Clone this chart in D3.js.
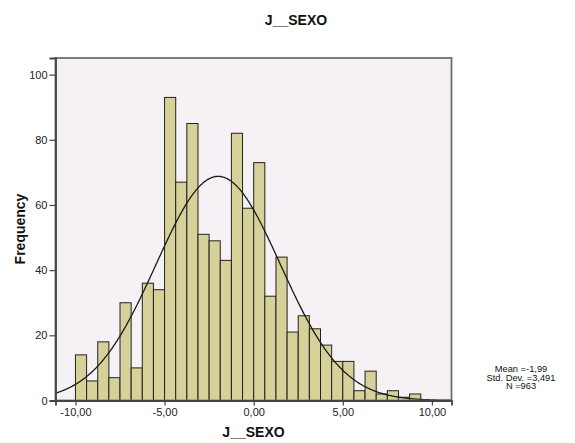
<!DOCTYPE html>
<html>
<head>
<meta charset="utf-8">
<script src="https://cdn.jsdelivr.net/npm/d3@7"></script>
<style>
  body { margin: 0; background: #fff; }
  text { font-family: "Liberation Sans", Arial, sans-serif; }
</style>
</head>
<body>
<div id="chart"></div>
<script>
// histogram bins (lower edges) and counts
var binEdges = [-10, -9.375, -8.75, -8.125, -7.5, -6.875, -6.25, -5.625,
                -5, -4.375, -3.75, -3.125, -2.5, -1.875, -1.25, -0.625,
                0, 0.625, 1.25, 1.875, 2.5, 3.125, 3.75, 4.375,
                5, 5.625, 6.25, 6.875, 7.5, 8.125, 8.75];
var binWidth = 0.625;
var counts = [14, 6, 18, 7, 30, 10, 36, 34,
              93, 67, 85, 51, 49, 43, 82, 59,
              73, 32, 44, 21, 26, 22, 17, 12,
              12, 3, 9, 2, 3, 1, 2];

var xTicks = [-10, -5, 0, 5, 10];
var yTicks = [0, 20, 40, 60, 80, 100];

// summary stats shown in the chart
var mean = -1.99;
var stdDev = 3.491;
var nTotal = 963;
var statsLines = ["Mean =-1,99", "Std. Dev. =3,491", "N =963"];

var svgWidth = 575;
var svgHeight = 443;

var plot = { left: 55.5, right: 451.5, top: 58, bottom: 400.5 };

var svg = d3.select("#chart")
    .append("svg")
    .attr("width", svgWidth)
    .attr("height", svgHeight);

var xScale = d3.scaleLinear()
    .domain([-11.12, 11.1])
    .range([plot.left, plot.right]);

var yScale = d3.scaleLinear()
    .domain([0, 105.1])
    .range([plot.bottom, plot.top]);

// plot background
svg.append("rect")
    .attr("x", plot.left)
    .attr("y", plot.top)
    .attr("width", plot.right - plot.left)
    .attr("height", plot.bottom - plot.top)
    .attr("fill", "#f5f1f5");

svg.append("defs").append("clipPath")
    .attr("id", "clip")
    .append("rect")
    .attr("x", plot.left)
    .attr("y", plot.top)
    .attr("width", plot.right - plot.left)
    .attr("height", plot.bottom - plot.top);

// bars
var bins = binEdges.map(function(e, i) { return { x0: e, x1: e + binWidth, n: counts[i] }; });

svg.append("g")
    .selectAll("rect")
    .data(bins.filter(d => d.n > 0))
    .enter()
    .append("rect")
    .attr("x", d => xScale(d.x0))
    .attr("y", d => yScale(d.n))
    .attr("width", d => xScale(d.x1) - xScale(d.x0))
    .attr("height", d => yScale(0) - yScale(d.n))
    .attr("fill", "#d5d198")
    .attr("stroke", "#222")
    .attr("stroke-width", 1);

// fitted normal curve
var curvePts = d3.range(xScale.domain()[0], xScale.domain()[1] + 0.05, 0.05).map(function(x) {
    var z = (x - mean) / stdDev;
    return [x, nTotal * binWidth * Math.exp(-0.5 * z * z) / (stdDev * Math.sqrt(2 * Math.PI))];
});

svg.append("path")
    .datum(curvePts)
    .attr("clip-path", "url(#clip)")
    .attr("fill", "none")
    .attr("stroke", "#1a1a1a")
    .attr("stroke-width", 1.3)
    .attr("d", d3.line().x(d => xScale(d[0])).y(d => yScale(d[1])));

// frame
svg.append("rect")
    .attr("x", plot.left)
    .attr("y", plot.top)
    .attr("width", plot.right - plot.left)
    .attr("height", plot.bottom - plot.top)
    .attr("fill", "none")
    .attr("stroke", "#6e6e6e")
    .attr("stroke-width", 1.8);

// axes
var fmt = d => d.toFixed(2).replace(".", ",");

var bottomAxis = d3.axisBottom(xScale).tickValues(xTicks).tickFormat(fmt).tickSize(5).tickPadding(3);
var leftAxis = d3.axisLeft(yScale).tickValues(yTicks).tickFormat(d3.format("d")).tickSize(6).tickPadding(2);

var gx = svg.append("g")
    .attr("transform", `translate(0, ${plot.bottom})`)
    .call(bottomAxis);

var gy = svg.append("g")
    .attr("transform", `translate(${plot.left}, 0)`)
    .call(leftAxis);

[gx, gy].forEach(function(g) {
    g.select(".domain").attr("stroke", "#444").attr("stroke-width", 1.8);
    g.selectAll(".tick line").attr("stroke", "#444").attr("stroke-width", 1.2);
    g.selectAll(".tick text")
        .attr("fill", "#222")
        .style("font-size", "11px")
        .style("font-family", "'Liberation Sans', Arial, sans-serif");
});

// title
svg.append("text")
    .attr("x", 296)
    .attr("y", 25)
    .attr("text-anchor", "middle")
    .style("font-size", "14px")
    .style("font-weight", "bold")
    .attr("fill", "#111")
    .text("J__SEXO");

// axis labels
svg.append("text")
    .attr("x", (plot.left + plot.right) / 2)
    .attr("y", 437)
    .attr("text-anchor", "middle")
    .style("font-size", "14px")
    .style("font-weight", "bold")
    .attr("fill", "#111")
    .text("J__SEXO");

svg.append("text")
    .attr("transform", "translate(25, 229) rotate(-90)")
    .attr("text-anchor", "middle")
    .style("font-size", "14px")
    .style("font-weight", "bold")
    .attr("fill", "#111")
    .text("Frequency");

// stats box
svg.append("g")
    .selectAll("text")
    .data(statsLines)
    .enter()
    .append("text")
    .attr("x", 521)
    .attr("y", (d, i) => 372 + i * 8.7)
    .attr("text-anchor", "middle")
    .style("font-size", "9.3px")
    .attr("fill", "#111")
    .text(d => d);
</script>
</body>
</html>
